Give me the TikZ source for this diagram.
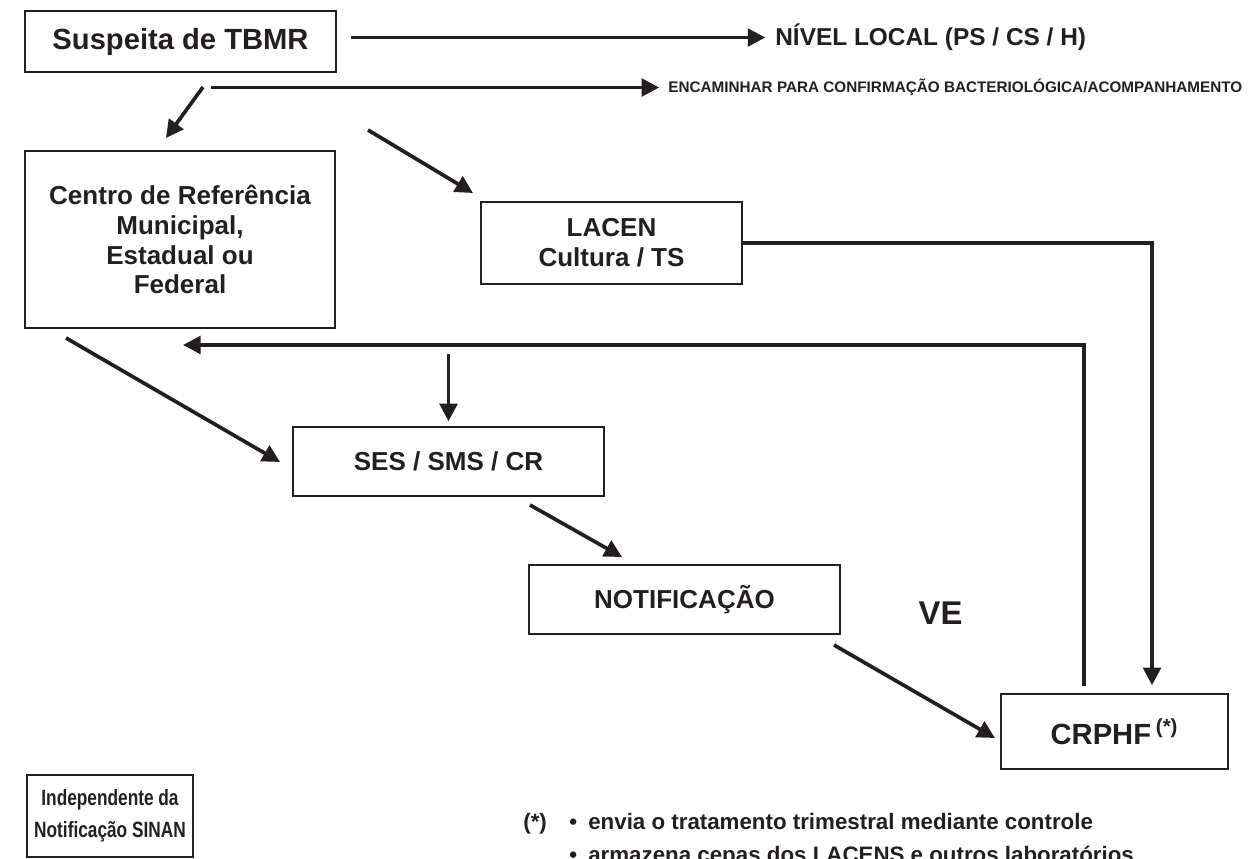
\documentclass[tikz,border=0pt]{standalone}
\usepackage{fontspec}
\setmainfont{Liberation Sans}
\newfontfamily\narrowsans[FakeStretch=0.78]{Liberation Sans}
\usetikzlibrary{arrows.meta, positioning, calc}
\definecolor{inkblack}{RGB}{35, 31, 32}

\begin{document}
\begin{tikzpicture}[
    x=0.02cm, y=-0.02cm,
    box/.style={draw=inkblack, line width=0.9pt, align=center, text=inkblack, inner sep=0pt,
        font=\fontsize{14.8}{17}\selectfont\bfseries},
    bigbox/.style={box, font=\fontsize{16.6}{19}\selectfont\bfseries},
    label/.style={inner sep=0pt, text=inkblack, font=\bfseries},
    note/.style={inner sep=0pt, text=inkblack, font=\fontsize{12.7}{15}\selectfont\bfseries},
    arrow/.style={-{Triangle[length=10pt, width=10pt]}, line width=2.1pt, inkblack}
]

\clip (0,0) rectangle (1259,859);

% Boxes
\node[bigbox, minimum width=6.22cm, minimum height=1.22cm] (susp) at (180.5,41.5) {Suspeita de TBMR};
\node[box, minimum width=6.2cm, minimum height=3.54cm] (centro) at (180,239.5)
    {Centro de Referência\\Municipal,\\Estadual ou\\Federal};
\node[box, minimum width=5.22cm, minimum height=1.64cm] (lacen) at (611.5,243) {LACEN\\Cultura / TS};
\node[box, minimum width=6.22cm, minimum height=1.38cm] (ses) at (448.5,461.5) {SES / SMS / CR};
\node[box, minimum width=6.22cm, minimum height=1.38cm] (notif) at (684.5,599.5) {NOTIFICAÇÃO};
\node[bigbox, minimum width=4.54cm, minimum height=1.5cm] (crphf) at (1114.5,731.5) {CRPHF\,\textsuperscript{(*)}};
\node[box, minimum width=3.32cm, minimum height=1.64cm, font=\narrowsans\fontsize{12.6}{18}\selectfont\bfseries] (indep) at (110,816)
    {Independente da\\Notificação SINAN};

% Labels
\node[label, anchor=west, font=\fontsize{13.9}{16}\selectfont\bfseries] (local) at (775,37.5) {NÍVEL LOCAL (PS / CS / H)};
\node[label, anchor=west, font=\fontsize{8.7}{10}\selectfont\bfseries] (encam) at (668,87.5)
    {ENCAMINHAR PARA CONFIRMAÇÃO BACTERIOLÓGICA/ACOMPANHAMENTO};
\node[label, font=\fontsize{18.7}{21}\selectfont\bfseries] (ve) at (940.5,613) {VE};

% Footnote
\node[note, anchor=base west] (ast) at (523,829) {(*)};
\node[note, anchor=base west] (note1) at (569,829) {\textbullet\hspace{0.5em}envia o tratamento trimestral mediante controle};
\node[note, anchor=base west] (note2) at (569,862) {\textbullet\hspace{0.5em}armazena cepas dos LACENS e outros laboratórios};

% Free ends of the slanted connectors
\coordinate (a0) at (211,87.5);
\coordinate (t1) at (203,87);  \coordinate (h1) at (166,138);
\coordinate (t2) at (368,130); \coordinate (h2) at (473,193);
\coordinate (t3) at (66,338);  \coordinate (h3) at (280,462);
\coordinate (t4) at (530,505); \coordinate (h4) at (622,557);
\coordinate (t5) at (834,645); \coordinate (h5) at (995,738);
\coordinate (fb) at (183,345);
\coordinate (dn) at (448.5,354);

% Top arrows
\draw[arrow, shorten <=8pt, shorten >=5.5pt] (local.west -| susp.east) -- (local.west);
\draw[arrow, shorten >=5pt] (a0) -- (encam.west);

% Flow
\draw[arrow] (t1) -- (h1);
\draw[arrow] (t2) -- (h2);
\draw[arrow] (t3) -- (h3);
\draw[arrow] (t4) -- (h4);
\draw[arrow] (t5) -- (h5);
\draw[arrow] (lacen.east) -| ($(crphf.north)+(37.5,-8)$);
\draw[arrow] ($(crphf.north)+(-30.5,-7)$) |- (fb);
\draw[arrow, shorten >=2.8pt] (dn) -- (ses.north);

\end{tikzpicture}
\end{document}
